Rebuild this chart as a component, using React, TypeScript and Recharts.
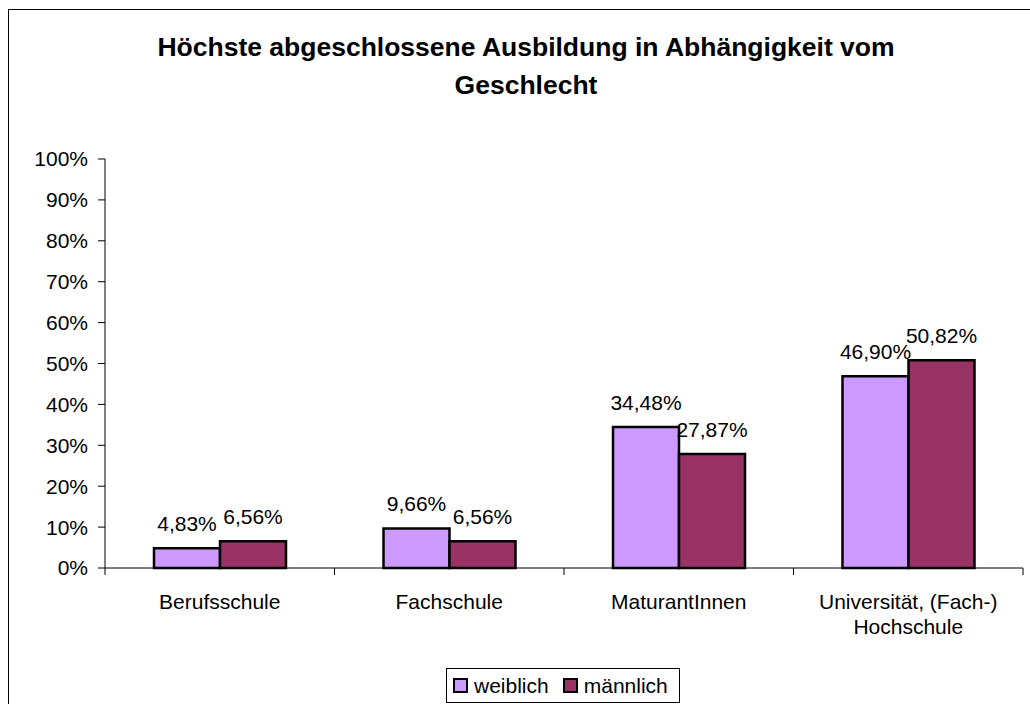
import React from 'react';
import { BarChart, Bar, XAxis, YAxis, LabelList } from 'recharts';

const CATEGORIES = ['Berufsschule', 'Fachschule', 'MaturantInnen', 'Universität, (Fach-)\nHochschule'];
const WEIBLICH = [4.83, 9.66, 34.48, 46.9];
const MAENNLICH = [6.56, 6.56, 27.87, 50.82];
const Y_TICKS = [0, 10, 20, 30, 40, 50, 60, 70, 80, 90, 100];

const FONT = '"Liberation Sans", Arial, sans-serif';
const C_W = '#CC99FF';
const C_M = '#993366';

const data = CATEGORIES.map((c, i) => ({ name: c, weiblich: WEIBLICH[i], maennlich: MAENNLICH[i] }));

const fmt = (v: number) => v.toFixed(2).replace('.', ',') + '%';

// category label + tick marks on the band edges (Excel style)
const CategoryTick = ({ x, y, payload, index, visibleTicksCount }: any) => {
  const lines = String(payload.value).split('\n');
  const half = payload.offset ?? 0;
  const last = index === (visibleTicksCount ?? CATEGORIES.length) - 1;
  return (
    <g>
      <line x1={x - half} x2={x - half} y1={y} y2={y + 7} stroke="#000" />
      {last && <line x1={x + half} x2={x + half} y1={y} y2={y + 7} stroke="#000" />}
      <text x={x} y={y} textAnchor="middle" fontFamily={FONT} fontSize={21} fill="#000">
        {lines.map((l, i) => (
          <tspan key={i} x={x} y={y + 41 + i * 25}>{l}</tspan>
        ))}
      </text>
    </g>
  );
};

const ValueLabel = ({ x, y, width, value }: any) => (
  <text x={x + width / 2} y={y - 17} textAnchor="middle" fontFamily={FONT} fontSize={21} fill="#000">
    {fmt(value)}
  </text>
);

const LegendItem = ({ color, label }: { color: string; label: string }) => (
  <div style={{ display: 'flex', alignItems: 'center' }}>
    <div style={{ width: 11, height: 11, background: color, border: '2px solid #000', marginRight: 6 }} />
    <span>{label}</span>
  </div>
);

export default function App() {
  return (
    <>
      <style>{'html,body{margin:0;padding:0;overflow:hidden;background:#fff}'}</style>
      <div style={{ position: 'relative', width: 1030, height: 704, overflow: 'hidden', fontFamily: FONT }}>
        <div
          style={{
            position: 'absolute', left: 8, top: 9, width: 1030, height: 700,
            borderLeft: '1px solid #000', borderTop: '1px solid #000', background: '#fff',
          }}
        >
          {/* title */}
          <div
            style={{
              position: 'absolute', left: 17, top: 18, width: 1000, textAlign: 'center',
              fontSize: 26.5, fontWeight: 'bold', lineHeight: '38px', color: '#000',
            }}
          >
            Höchste abgeschlossene Ausbildung in Abhängigkeit vom
            <br />
            Geschlecht
          </div>

          <BarChart
            width={1021}
            height={694}
            data={data}
            barSize={66}
            barGap={0}
            margin={{ top: 149, right: 7, bottom: 76, left: 0 }}
            style={{ position: 'absolute', left: 0, top: 0 }}
          >
            <YAxis
              width={96}
              domain={[0, 100]}
              ticks={Y_TICKS}
              interval={0}
              tickFormatter={(v: number) => `${v}%`}
              tickSize={7}
              tickMargin={10}
              axisLine={{ stroke: '#000' }}
              tickLine={{ stroke: '#000' }}
              tick={{ fontSize: 21, fill: '#000', fontFamily: FONT }}
            />
            <XAxis
              dataKey="name"
              height={60}
              axisLine={{ stroke: '#000' }}
              tickLine={false}
              tickSize={0}
              tickMargin={0}
              interval={0}
              tick={<CategoryTick />}
            />
            <Bar dataKey="weiblich" fill={C_W} stroke="#000" strokeWidth={2.5} isAnimationActive={false}>
              <LabelList dataKey="weiblich" content={<ValueLabel />} />
            </Bar>
            <Bar dataKey="maennlich" fill={C_M} stroke="#000" strokeWidth={2.5} isAnimationActive={false}>
              <LabelList dataKey="maennlich" content={<ValueLabel />} />
            </Bar>
          </BarChart>

          {/* legend */}
          <div
            style={{
              position: 'absolute', left: 437, top: 658, width: 226, height: 33,
              border: '1px solid #000', display: 'flex', alignItems: 'center',
              paddingLeft: 6, boxSizing: 'content-box', fontSize: 21, gap: 14, color: '#000',
            }}
          >
            <LegendItem color={C_W} label="weiblich" />
            <LegendItem color={C_M} label="männlich" />
          </div>
        </div>
      </div>
    </>
  );
}
